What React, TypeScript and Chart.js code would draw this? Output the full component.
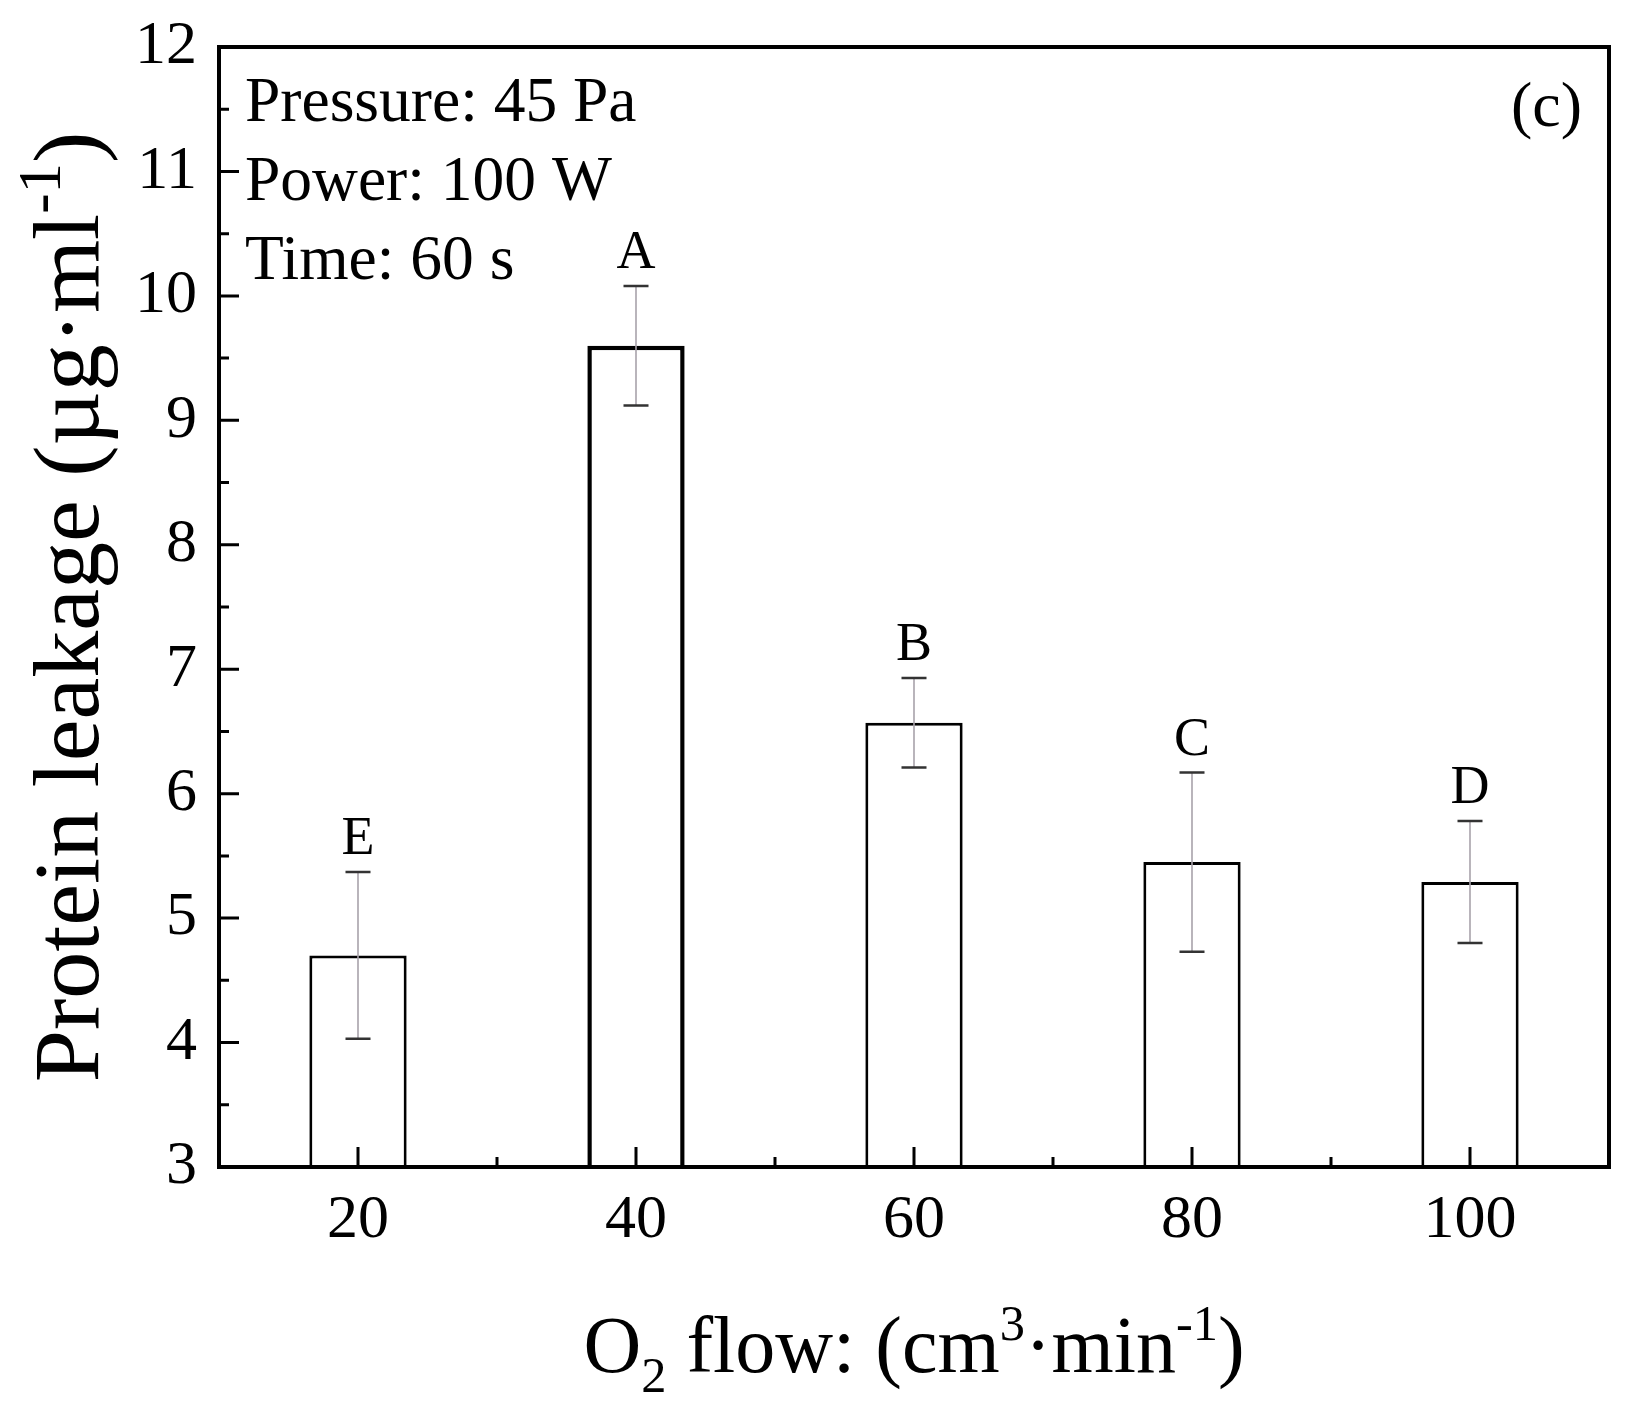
import { useEffect, useRef } from 'react';
import { Chart, registerables } from 'chart.js';

Chart.register(...registerables);

// ---- data ----
const categories = ['20', '40', '60', '80', '100'];
const leakage = [4.70, 9.60, 6.57, 5.45, 5.29];
const leakageErr = [0.67, 0.48, 0.36, 0.72, 0.49];
const groupLetters = ['E', 'A', 'B', 'C', 'D'];
const yTickValues = [3, 4, 5, 6, 7, 8, 9, 10, 11, 12];
const conditionLines = ['Pressure: 45 Pa', 'Power: 100 W', 'Time: 60 s'];
const panelLabel = '(c)';

type Part = { t: string; s?: number; dy?: number };
const yTitleParts: Part[] = [
  { t: 'Protein leakage (\u00B5g\u00B7ml' },
  { t: '-1', s: 0.65, dy: -0.4 },
  { t: ')' },
];
const xTitleParts: Part[] = [
  { t: 'O' },
  { t: '2', s: 0.63, dy: 0.25 },
  { t: ' flow: (cm' },
  { t: '3', s: 0.63, dy: -0.4 },
  { t: '\u00B7min' },
  { t: '-1', s: 0.63, dy: -0.4 },
  { t: ')' },
];

const FONT = '"Liberation Serif", "Times New Roman", Times, serif';

function drawRich(ctx: CanvasRenderingContext2D, parts: Part[], size: number, x: number, y: number, align: 'left' | 'center') {
  ctx.save();
  ctx.textBaseline = 'alphabetic';
  ctx.textAlign = 'left';
  let total = 0;
  const widths = parts.map((p) => {
    ctx.font = `${size * (p.s ?? 1)}px ${FONT}`;
    const w = ctx.measureText(p.t).width;
    total += w;
    return w;
  });
  let cx = align === 'center' ? x - total / 2 : x;
  parts.forEach((p, i) => {
    ctx.font = `${size * (p.s ?? 1)}px ${FONT}`;
    ctx.fillText(p.t, cx, y + (p.dy ?? 0) * size);
    cx += widths[i];
  });
  ctx.restore();
}

const decorPlugin = {
  id: 'decor',
  afterDatasetsDraw(chart: any) {
    const ctx: CanvasRenderingContext2D = chart.ctx;
    const ys = chart.scales.y;
    const meta = chart.getDatasetMeta(0);
    ctx.save();
    // error bars
    leakage.forEach((v, i) => {
      const bar = meta.data[i];
      const x = bar.x;
      const yt = ys.getPixelForValue(v + leakageErr[i]);
      const yb = ys.getPixelForValue(v - leakageErr[i]);
      ctx.strokeStyle = '#a8a2aa';
      ctx.lineWidth = 1.6;
      ctx.beginPath();
      ctx.moveTo(x, yt);
      ctx.lineTo(x, yb);
      ctx.stroke();
      ctx.strokeStyle = '#333333';
      ctx.lineWidth = 2.5;
      ctx.beginPath();
      ctx.moveTo(x - 12.5, yt);
      ctx.lineTo(x + 12.5, yt);
      ctx.moveTo(x - 12.5, yb);
      ctx.lineTo(x + 12.5, yb);
      ctx.stroke();
      // group letter
      ctx.fillStyle = '#000';
      ctx.font = `54px ${FONT}`;
      ctx.textAlign = 'center';
      ctx.textBaseline = 'alphabetic';
      ctx.fillText(groupLetters[i], x, yt - 18);
    });
    ctx.restore();
  },
  afterDraw(chart: any) {
    const ctx: CanvasRenderingContext2D = chart.ctx;
    const a = chart.chartArea;
    const xs = chart.scales.x;
    const ys = chart.scales.y;
    ctx.save();
    ctx.strokeStyle = '#000';
    // inward ticks
    ctx.lineWidth = 3;
    ctx.beginPath();
    yTickValues.forEach((v, i) => {
      const py = ys.getPixelForValue(v);
      ctx.moveTo(a.left, py);
      ctx.lineTo(a.left + 20, py);
      if (i < yTickValues.length - 1) {
        const pm = ys.getPixelForValue((v + yTickValues[i + 1]) / 2);
        ctx.moveTo(a.left, pm);
        ctx.lineTo(a.left + 10, pm);
      }
    });
    categories.forEach((_, i) => {
      const px = xs.getPixelForValue(i);
      ctx.moveTo(px, a.bottom);
      ctx.lineTo(px, a.bottom - 20);
      if (i < categories.length - 1) {
        const pm = (px + xs.getPixelForValue(i + 1)) / 2;
        ctx.moveTo(pm, a.bottom);
        ctx.lineTo(pm, a.bottom - 10);
      }
    });
    ctx.stroke();
    // frame
    ctx.lineWidth = 4;
    ctx.strokeRect(a.left, a.top, a.right - a.left, a.bottom - a.top);

    // condition text
    ctx.fillStyle = '#000';
    ctx.font = `63.5px ${FONT}`;
    ctx.textAlign = 'left';
    ctx.textBaseline = 'alphabetic';
    conditionLines.forEach((t, i) => {
      ctx.fillText(t, a.left + 26, a.top + 74 + i * 79);
    });
    // panel label
    ctx.font = `64px ${FONT}`;
    ctx.textAlign = 'right';
    ctx.fillText(panelLabel, a.right - 27, a.top + 79);

    // axis titles
    ctx.fillStyle = '#000';
    drawRich(ctx, xTitleParts, 80, (a.left + a.right) / 2, 1372, 'center');
    ctx.save();
    ctx.translate(98, (a.top + a.bottom) / 2);
    ctx.rotate(-Math.PI / 2);
    drawRich(ctx, yTitleParts, 94, 0, 0, 'center');
    ctx.restore();
    ctx.restore();
  },
};

export default function App() {
  const ref = useRef<HTMLCanvasElement | null>(null);
  useEffect(() => {
    if (!ref.current) return;
    const chart = new Chart(ref.current, {
      type: 'bar',
      data: {
        labels: categories,
        datasets: [
          {
            data: leakage,
            base: yTickValues[0],
            backgroundColor: '#ffffff',
            borderColor: '#000000',
            borderWidth: (c: any) => (c.dataIndex === 1 ? 4.5 : 3),
            borderSkipped: 'start',
            barPercentage: 0.35,
            categoryPercentage: 1,
          } as any,
        ],
      },
      options: {
        animation: false,
        responsive: true,
        maintainAspectRatio: false,
        devicePixelRatio: 1,
        layout: { padding: { left: 0, top: 47, right: 39, bottom: 0 } },
        plugins: {
          legend: { display: false },
          tooltip: { enabled: false },
          title: { display: false },
        },
        scales: {
          x: {
            type: 'category',
            offset: true,
            grid: { display: false, drawTicks: false },
            border: { display: false },
            ticks: {
              color: '#000',
              padding: 17,
              font: { family: FONT, size: 62 },
              maxRotation: 0,
            },
            afterFit: (s: any) => {
              s.height = 241;
              s.paddingLeft = 0;
              s.paddingRight = 0;
            },
          },
          y: {
            min: yTickValues[0],
            max: yTickValues[yTickValues.length - 1],
            grid: { display: false, drawTicks: false },
            border: { display: false },
            ticks: {
              color: '#000',
              padding: 22,
              stepSize: 1,
              font: { family: FONT, size: 62 },
            },
            afterBuildTicks: (s: any) => {
              s.ticks = yTickValues.map((v) => ({ value: v }));
            },
            afterFit: (s: any) => {
              s.width = 219;
              s.paddingTop = 0;
              s.paddingBottom = 0;
            },
          },
        },
      },
      plugins: [decorPlugin],
    });
    return () => chart.destroy();
  }, []);
  return (
    <div style={{ position: 'absolute', left: 0, top: 0, width: 1648, height: 1408, background: '#fff' }}>
      <canvas ref={ref} />
    </div>
  );
}
